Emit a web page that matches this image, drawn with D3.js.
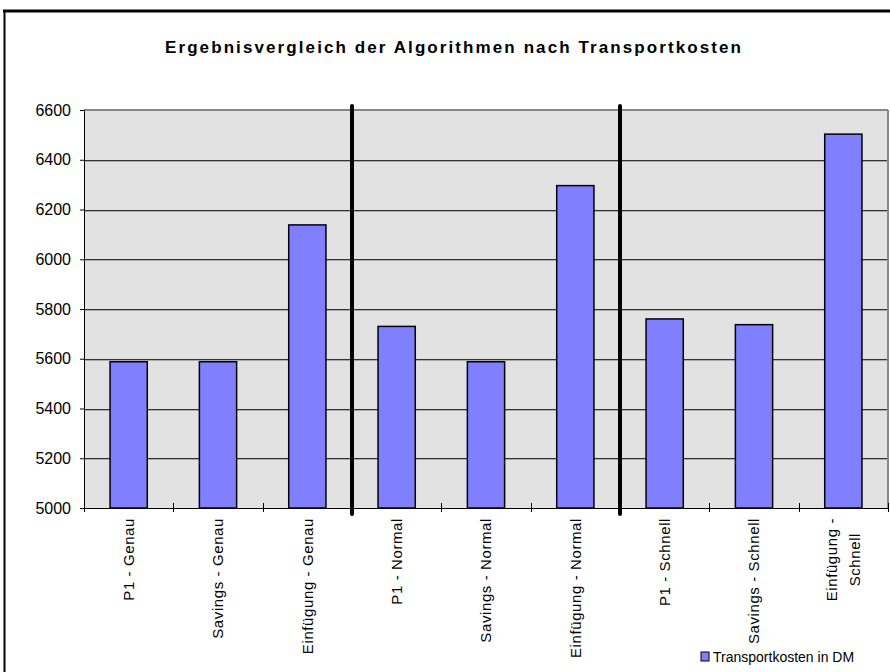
<!DOCTYPE html>
<html>
<head>
<meta charset="utf-8">
<script src="https://cdn.jsdelivr.net/npm/d3@7"></script>
<style>
  body { margin: 0; background: #fff; }
  text { font-family: "Liberation Sans", Arial, sans-serif; fill: #000; }
</style>
</head>
<body>
<div id="chart"></div>
<script>
// data
var categories = ["P1 - Genau", "Savings - Genau", "Einfügung - Genau",
                  "P1 - Normal", "Savings - Normal", "Einfügung - Normal",
                  "P1 - Schnell", "Savings - Schnell", "Einfügung - Schnell"];
var tickLabels = [["P1 - Genau"], ["Savings - Genau"], ["Einfügung - Genau"],
                  ["P1 - Normal"], ["Savings - Normal"], ["Einfügung - Normal"],
                  ["P1 - Schnell"], ["Savings - Schnell"], ["Einfügung -", "Schnell"]];
var values = [5588, 5588, 6138, 5730, 5588, 6296, 5760, 5737, 6503];
var yTicks = [5000, 5200, 5400, 5600, 5800, 6000, 6200, 6400, 6600];
var groupStarts = ["P1 - Normal", "P1 - Schnell"];
var seriesName = "Transportkosten in DM";
var title = "Ergebnisvergleich der Algorithmen nach Transportkosten";

(function() {
    var W = 890, H = 672;
    var margin = {top: 110, right: 2, bottom: 164, left: 84};
    var width = W - margin.left - margin.right;
    var height = H - margin.top - margin.bottom;

    var svg = d3.select("#chart").append("svg")
        .attr("width", W)
        .attr("height", H);

    //outer chart frame (cut off at right / bottom)
    svg.append("line").attr("x1", 3).attr("x2", W).attr("y1", 11).attr("y2", 11)
        .attr("stroke", "#000").attr("stroke-width", 3);
    svg.append("line").attr("x1", 4.5).attr("x2", 4.5).attr("y1", 10).attr("y2", H)
        .attr("stroke", "#000").attr("stroke-width", 2);

    //title
    svg.append("text")
        .attr("x", 165)
        .attr("y", 53)
        .attr("textLength", 576)
        .attr("lengthAdjust", "spacing")
        .style("font-size", "17px")
        .style("font-weight", "bold")
        .text(title);

    var g = svg.append("g")
        .attr("transform", "translate(" + margin.left + "," + margin.top + ")");

    //scales
    var xScale = d3.scaleBand().domain(categories).range([0, width]).padding(0);
    var yScale = d3.scaleLinear().domain([5000, 6600]).range([height, 0]);
    var barW = xScale.step() / 2.4;

    //plot background
    g.append("rect")
        .attr("width", width)
        .attr("height", height)
        .attr("fill", "#e2e2e2");

    //gridlines
    g.selectAll(".grid")
        .data(yTicks.slice(1, -1))
        .enter().append("line")
        .attr("x1", 0).attr("x2", width)
        .attr("y1", function(d) { return Math.round(yScale(d)) + 0.5; })
        .attr("y2", function(d) { return Math.round(yScale(d)) + 0.5; })
        .attr("stroke", "#333");
    g.selectAll(".gridshadow")
        .data(yTicks.slice(1, -1))
        .enter().append("line")
        .attr("x1", 0).attr("x2", width)
        .attr("y1", function(d) { return Math.round(yScale(d)) + 1.5; })
        .attr("y2", function(d) { return Math.round(yScale(d)) + 1.5; })
        .attr("stroke", "#aaa");

    //top + right border of plot
    g.append("line").attr("x1", 0).attr("x2", width).attr("y1", yScale(6600)).attr("y2", yScale(6600))
        .attr("stroke", "#888").attr("stroke-width", 2);
    g.append("line").attr("x1", width).attr("x2", width).attr("y1", 0).attr("y2", height)
        .attr("stroke", "#888").attr("stroke-width", 2);

    //bars
    g.selectAll(".bar")
        .data(values)
        .enter().append("rect")
        .attr("class", "bar")
        .attr("x", function(d, i) { return xScale(categories[i]) + (xScale.step() - barW) / 2; })
        .attr("width", barW)
        .attr("y", function(d) { return yScale(d); })
        .attr("height", function(d) { return height - yScale(d); })
        .attr("fill", "#8080ff")
        .attr("stroke", "#000")
        .attr("stroke-width", 1.5);

    //y axis
    var yAxis = g.append("g")
        .call(d3.axisLeft(yScale).tickValues(yTicks).tickFormat(d3.format("d"))
            .tickSize(4).tickSizeOuter(0).tickPadding(9));
    yAxis.select(".domain").attr("stroke", "#000");
    yAxis.selectAll("text")
        .style("font-family", "'Liberation Sans', Arial, sans-serif")
        .style("font-size", "16px");

    //x axis line + boundary ticks
    g.append("line").attr("x1", 0).attr("x2", width).attr("y1", height + 0.5).attr("y2", height + 0.5)
        .attr("stroke", "#000");
    var bounds = categories.map(function(c) { return xScale(c); }).concat([width]);
    g.selectAll(".xtick")
        .data(bounds)
        .enter().append("line")
        .attr("x1", function(d) { return Math.round(d) + 0.5; })
        .attr("x2", function(d) { return Math.round(d) + 0.5; })
        .attr("y1", height - 5)
        .attr("y2", height + 4)
        .attr("stroke", "#000");

    //x labels (rotated, multi line)
    var lh = 23;
    var lab = g.selectAll(".xlab")
        .data(tickLabels)
        .enter().append("g")
        .attr("transform", function(d, i) {
            return "translate(" + (xScale(categories[i]) + xScale.step() / 2) + "," + (height + 10) + ") rotate(-90)";
        });
    lab.each(function(lines) {
        var sel = d3.select(this);
        var maxLen = 0;
        var texts = lines.map(function(l, k) {
            var t = sel.append("text")
                .attr("y", (k - (lines.length - 1) / 2) * lh)
                .attr("dy", "0.35em")
                .attr("text-anchor", "middle")
                .style("font-size", "15px")
                .style("letter-spacing", "0.6px")
                .text(l);
            maxLen = Math.max(maxLen, t.node().getComputedTextLength());
            return t;
        });
        texts.forEach(function(t) { t.attr("x", -maxLen / 2); });
    });

    //group separators
    g.selectAll(".sep")
        .data(groupStarts)
        .enter().append("line")
        .attr("x1", function(d) { return xScale(d); })
        .attr("x2", function(d) { return xScale(d); })
        .attr("y1", -4)
        .attr("y2", height + 6)
        .attr("stroke", "#000")
        .attr("stroke-width", 4)
        .attr("stroke-linecap", "round");

    //legend
    var leg = svg.append("g").attr("transform", "translate(701,652)");
    leg.append("rect").attr("width", 8).attr("height", 9)
        .attr("fill", "#8080ff").attr("stroke", "#000");
    leg.append("text").attr("x", 12).attr("y", 10)
        .style("font-size", "14px")
        .text(seriesName);
})();
</script>
</body>
</html>
